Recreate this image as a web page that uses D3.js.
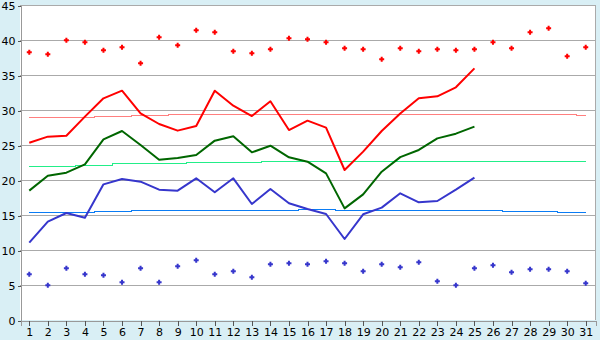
<!DOCTYPE html>
<html><head><meta charset="utf-8">
<script src="https://cdn.jsdelivr.net/npm/d3@7"></script>
<style>
html,body{margin:0;padding:0;background:#D9EFF5;}
svg{display:block;font-family:"DejaVu Sans",Verdana,sans-serif;}
</style>
</head><body><svg width="600" height="340"></svg>
<script>
const days = ["1","2","3","4","5","6","7","8","9","10","11","12","13","14","15","16","17","18","19","20","21","22","23","24","25","26","27","28","29","30","31"];
const highMarks = [38.24,37.95,39.95,39.67,38.52,38.95,36.67,40.38,39.24,41.38,41.1,38.38,38.1,38.67,40.24,40.1,39.67,38.81,38.67,37.24,38.81,38.38,38.67,38.52,38.67,39.67,38.81,41.1,41.67,37.67,38.95];
const lowMarks = [6.52,4.95,7.38,6.52,6.38,5.38,7.38,5.38,7.67,8.52,6.52,6.95,6.1,7.95,8.1,7.95,8.38,8.1,6.95,7.95,7.52,8.24,5.52,4.95,7.38,7.81,6.81,7.24,7.24,6.95,5.24];
const redLine = [25.33,26.19,26.33,29.05,31.67,32.76,29.52,28.0,27.05,27.71,32.76,30.62,29.14,31.24,27.14,28.48,27.48,21.43,24.05,27.0,29.5,31.67,31.95,33.24,35.95];
const greenLine = [18.48,20.62,21.05,22.24,25.81,27.0,25.0,22.9,23.14,23.57,25.62,26.24,23.95,24.9,23.24,22.62,20.95,15.95,17.95,21.19,23.27,24.29,25.95,26.62,27.62];
const blueLine = [11.05,14.05,15.29,14.62,19.38,20.14,19.76,18.62,18.48,20.24,18.24,20.24,16.57,18.71,16.67,15.86,15.14,11.57,15.1,16.05,18.1,16.81,17.0,18.62,20.33];
const redAvg = [28.95,28.95,28.95,28.95,29.1,29.1,29.24,29.24,29.38,29.38,29.38,29.38,29.38,29.38,29.38,29.38,29.38,29.38,29.38,29.38,29.38,29.38,29.38,29.38,29.38,29.38,29.38,29.38,29.38,29.38,29.24];
const greenAvg = [21.95,21.95,21.95,22.14,22.14,22.38,22.38,22.38,22.38,22.52,22.52,22.52,22.52,22.67,22.67,22.67,22.67,22.67,22.67,22.67,22.67,22.67,22.67,22.67,22.67,22.67,22.67,22.67,22.67,22.67,22.67];
const blueAvg = [15.38,15.38,15.38,15.38,15.52,15.52,15.71,15.71,15.71,15.71,15.71,15.71,15.71,15.71,15.71,15.86,15.86,15.71,15.71,15.71,15.71,15.71,15.71,15.71,15.71,15.71,15.57,15.57,15.57,15.43,15.43];
const yTicks = [0,5,10,15,20,25,30,35,40,45];

const svg = d3.select("svg");
const L = 20, R = 595, T = 5, B = 320;
const x = d3.scaleBand().domain(days).range([L, R]);
const cx = d => x(d) + x.bandwidth() / 2;
const y = d3.scaleLinear().domain([0, 45]).range([B, T]);

svg.append("rect").attr("x", L).attr("y", T).attr("width", R - L).attr("height", B - T).attr("fill", "#fff");

// gridlines
svg.append("g").selectAll("line").data(yTicks.filter(v => v > 0)).join("line")
  .attr("x1", L).attr("x2", R)
  .attr("y1", d => Math.round(y(d)) + 0.5).attr("y2", d => Math.round(y(d)) + 0.5)
  .attr("stroke", "#aaaaaa").attr("stroke-width", 1).attr("shape-rendering", "crispEdges");
// right border
svg.append("line").attr("x1", R + 0.5).attr("x2", R + 0.5).attr("y1", T).attr("y2", B)
  .attr("stroke", "#aaaaaa").attr("shape-rendering", "crispEdges");

// axes
const gy = svg.append("g").attr("transform", `translate(${L + 0.5},0.5)`)
  .call(d3.axisLeft(y).tickValues(yTicks).tickSize(3).tickPadding(2));
const gx = svg.append("g").attr("transform", `translate(0.5,${B + 0.5})`)
  .call(d3.axisBottom(x).tickSize(5).tickPadding(3));
[gy, gx].forEach(g => {
  g.selectAll("path.domain").attr("stroke", "#999999").attr("shape-rendering", "crispEdges");
  g.selectAll(".tick line").attr("stroke", "#555555").attr("shape-rendering", "crispEdges");
  g.selectAll("text").attr("fill", "#000").attr("font-size", 11).attr("font-family", '"DejaVu Sans",Verdana,sans-serif');
});

// average step lines
const stepLine = d3.line().x((v, i) => cx(days[i])).y(v => Math.round(y(v)) + 0.5).curve(d3.curveStep);
[[redAvg, "#ff7f7f"], [greenAvg, "#22ee88"], [blueAvg, "#0a7cf5"]].forEach(([arr, col]) => {
  svg.append("path").attr("d", stepLine(arr)).attr("fill", "none").attr("stroke", col)
    .attr("stroke-width", 1).attr("shape-rendering", "crispEdges");
});

// main lines
const line = d3.line().x((v, i) => cx(days[i])).y(v => y(v));
[[redLine, "#ff0000"], [greenLine, "#006600"], [blueLine, "#3636cc"]].forEach(([arr, col]) => {
  svg.append("path").attr("d", line(arr)).attr("fill", "none").attr("stroke", col)
    .attr("stroke-width", 2).attr("stroke-linejoin", "round");
});

// markers
const mark = "M-1,-2.5H1V-1H2.5V1H1V2.5H-1V1H-2.5V-1H-1Z";
[[highMarks, "#ff0000"], [lowMarks, "#3636cc"]].forEach(([arr, col]) => {
  svg.append("g").selectAll("path").data(arr).join("path")
    .attr("d", mark)
    .attr("transform", (v, i) => `translate(${cx(days[i])},${y(v)})`)
    .attr("fill", col);
});
</script>
</body></html>
